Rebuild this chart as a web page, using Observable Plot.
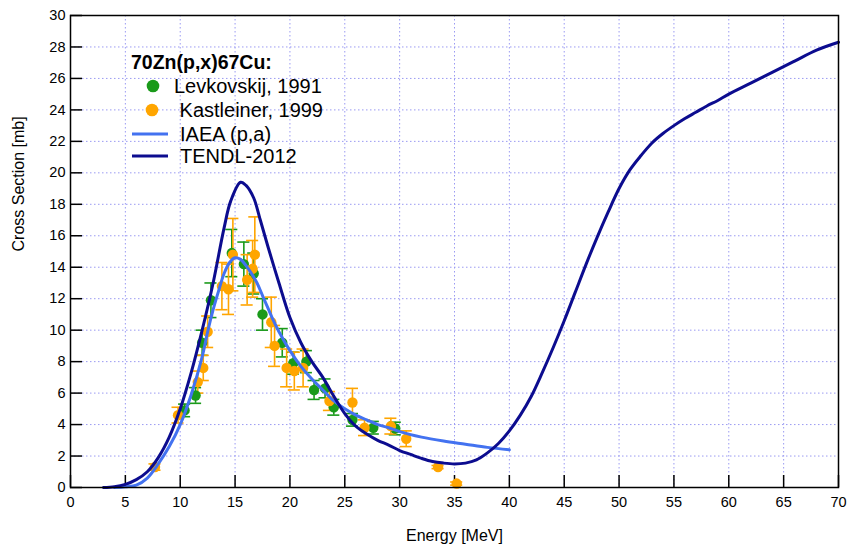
<!DOCTYPE html>
<html><head><meta charset="utf-8">
<script src="https://cdn.jsdelivr.net/npm/d3@7"></script>
<script src="https://cdn.jsdelivr.net/npm/@observablehq/plot@0.6"></script>
<style>
body{margin:0;background:#fff}
#chart svg{font-family:"Liberation Sans",Arial,sans-serif}
</style>
</head><body><div id="chart"></div>
<script>
// ---- data ----
const xTicks = [0,5,10,15,20,25,30,35,40,45,50,55,60,65,70];
const yTicks = [0,2,4,6,8,10,12,14,16,18,20,22,24,26,28,30];
const xLabel = "Energy [MeV]";
const yLabel = "Cross Section [mb]";

const levkovskijEnergy = [10.4,11.4,12.0,12.8,14.7,15.8,16.7,17.5,19.3,20.3,21.5,22.2,23.2,24.0,25.7,27.6,29.6];
const levkovskijXs     = [4.9,5.85,9.2,11.9,14.9,14.2,13.6,11.0,9.2,7.9,8.0,6.2,6.3,5.1,4.3,3.8,3.75];
const levkovskijErr    = [0.4,0.5,0.8,1.1,1.5,1.4,1.3,1.0,0.9,0.7,0.7,0.6,0.6,0.5,0.4,0.4,0.4];

const kastleinerEnergy = [7.7,9.8,11.6,12.1,12.5,13.8,14.4,14.8,16.1,16.6,16.8,18.3,18.6,19.7,20.4,21.2,23.6,25.7,26.8,29.2,30.6,33.5,35.2];
const kastleinerXs     = [1.3,4.6,6.7,7.6,9.9,12.8,12.6,14.8,13.2,13.9,14.8,10.5,9.0,7.6,7.4,7.6,5.5,5.4,3.8,3.9,3.1,1.3,0.25];
const kastleinerErr    = [0.2,0.5,0.7,0.8,1.0,1.5,1.6,2.3,1.6,1.8,2.4,1.6,1.3,1.2,1.2,1.2,0.6,0.9,0.5,0.5,0.5,0.1,0.1];

const iaeaEnergy = [4,5,6,7,8,9,10,11,12,12.5,13,13.5,14,14.5,15,15.5,16,16.5,17,17.5,18,18.5,19,20,21,22,23,24,25,26,27,28,29,30,32,34,36,38,40];
const iaeaXs     = [0,0.05,0.15,0.6,1.5,2.6,4.0,5.9,8.3,9.9,11.3,12.5,13.6,14.3,14.6,14.5,14.1,13.6,13.0,12.2,11.4,10.6,9.9,8.7,7.7,6.9,6.2,5.5,5.0,4.6,4.3,4.0,3.8,3.55,3.2,2.95,2.75,2.55,2.4];

const tendlEnergy = [3,4,5,6,7,8,9,10,11,12,13,14,14.6,15.5,16,16.7,17.3,18,19,20,21,22,23,24,25,26,27,28,29,30,31,32,33,34,35,36,37,38,39,40,41,42,43,44,45,46,47,48,49,50,51,52,53,54,55,56,57,58,59,60,62,64,66,68,70];
const tendlXs     = [0,0.05,0.2,0.5,1.0,1.9,3.2,5.0,7.3,10.0,13.0,16.5,18.2,19.4,19.2,18.4,17.0,15.3,13.0,10.8,9.2,8.0,7.0,5.8,4.7,3.9,3.4,3.0,2.7,2.35,2.1,1.85,1.65,1.55,1.5,1.55,1.75,2.2,2.8,3.6,4.6,5.8,7.3,8.9,10.6,12.4,14.2,15.9,17.5,19.0,20.2,21.1,21.9,22.5,23.0,23.45,23.85,24.25,24.6,25.0,25.7,26.4,27.1,27.8,28.3];

const legendTitle = "70Zn(p,x)67Cu:";
const seriesNames = ["Levkovskij, 1991", " Kastleiner, 1999", "IAEA (p,a)", "TENDL-2012"];
const seriesColors = ["#1a9a1a", "#ffa500", "#4372f0", "#0c0c8f"];

// ---- build tables ----
const lev = levkovskijEnergy.map((e,i)=>({e, s: levkovskijXs[i], err: levkovskijErr[i]}));
const kas = kastleinerEnergy.map((e,i)=>({e, s: kastleinerXs[i], err: kastleinerErr[i]}));
const iaea = iaeaEnergy.map((e,i)=>({e, s: iaeaXs[i]}));
const tendl = tendlEnergy.map((e,i)=>({e, s: tendlXs[i]}));
const cap = 0.55;

const W = 849, H = 547, mL = 70, mR = 11, mT = 15, mB = 60;
const innerW = W - mL - mR, innerH = H - mT - mB;

function errMarks(data, color) {
  return [
    Plot.ruleX(data, {x: "e", y1: d => d.s - d.err, y2: d => d.s + d.err, stroke: color, strokeWidth: 1.6}),
    Plot.ruleY(data, {y: d => d.s + d.err, x1: d => d.e - cap, x2: d => d.e + cap, stroke: color, strokeWidth: 1.6}),
    Plot.ruleY(data, {y: d => d.s - d.err, x1: d => d.e - cap, x2: d => d.e + cap, stroke: color, strokeWidth: 1.6})
  ];
}

const gridStyle = {stroke: "#9a9af2", strokeOpacity: 1, strokeWidth: 1, strokeDasharray: "1.5,2.5"};

const chart = Plot.plot({
  width: W, height: H,
  marginLeft: mL, marginRight: mR, marginTop: mT, marginBottom: mB,
  style: {fontFamily: "'Liberation Sans', Arial, sans-serif", fontSize: "14px", background: "white", color: "black", overflow: "visible"},
  x: {domain: [0, 70]},
  y: {domain: [0, 30]},
  marks: [
    Plot.gridX(xTicks.slice(1, -1), gridStyle),
    Plot.gridY(yTicks.slice(1, -1), gridStyle),
    Plot.axisX(xTicks, {tickSize: 0, tickPadding: 9, fontSize: 14.5, label: null}),
    Plot.axisY(yTicks, {tickSize: 0, tickPadding: 5, fontSize: 14.5, label: null}),
    Plot.text([xLabel], {frameAnchor: "bottom", dy: 48, fontSize: 16, text: d => d, lineAnchor: "middle"}),
    Plot.text([yLabel], {frameAnchor: "left", dx: -52, fontSize: 16, rotate: -90, text: d => d, lineAnchor: "middle"}),
    Plot.tickX(xTicks, {x: d => d, insetTop: innerH - 12, stroke: "black", strokeWidth: 1.5}),
    Plot.tickY(yTicks, {y: d => d, insetRight: innerW - 12, stroke: "black", strokeWidth: 1.5}),
    ...errMarks(lev, seriesColors[0]),
    ...errMarks(kas, seriesColors[1]),
    Plot.dot(lev, {x: "e", y: "s", r: 5.2, fill: seriesColors[0], stroke: "none"}),
    Plot.dot(kas, {x: "e", y: "s", r: 5.2, fill: seriesColors[1], stroke: "none"}),
    Plot.line(iaea, {x: "e", y: "s", stroke: seriesColors[2], strokeWidth: 3, curve: "catmull-rom"}),
    Plot.line(tendl, {x: "e", y: "s", stroke: seriesColors[3], strokeWidth: 3, curve: "catmull-rom"}),
    Plot.frame({stroke: "black", strokeWidth: 1.5})
  ]
});

document.getElementById("chart").append(chart);

// ---- legend inside plot area ----
const svg = d3.select(chart);
const lg = svg.append("g")
  .attr("font-family", "'Liberation Sans', Arial, sans-serif")
  .attr("fill", "black")
  .attr("text-anchor", "start");
lg.append("text").attr("x", 131).attr("y", 69).attr("font-size", 19.5).attr("font-weight", "bold").attr("text-anchor", "start").text(legendTitle);
const rows = [86, 110, 134, 156];
lg.append("circle").attr("cx", 153).attr("cy", rows[0]).attr("r", 6.3).attr("fill", seriesColors[0]);
lg.append("circle").attr("cx", 152).attr("cy", rows[1]).attr("r", 6.3).attr("fill", seriesColors[1]);
lg.append("line").attr("x1", 132).attr("x2", 168).attr("y1", rows[2]).attr("y2", rows[2]).attr("stroke", seriesColors[2]).attr("stroke-width", 3);
lg.append("line").attr("x1", 132).attr("x2", 168).attr("y1", rows[3]).attr("y2", rows[3]).attr("stroke", seriesColors[3]).attr("stroke-width", 3);
const textX = [174, 174, 180, 180];
seriesNames.forEach((n, i) => {
  lg.append("text").attr("x", textX[i]).attr("y", rows[i] + 7).attr("font-size", 20)
    .attr("text-anchor", "start").style("white-space", "pre").text(n);
});
</script>
</body></html>
